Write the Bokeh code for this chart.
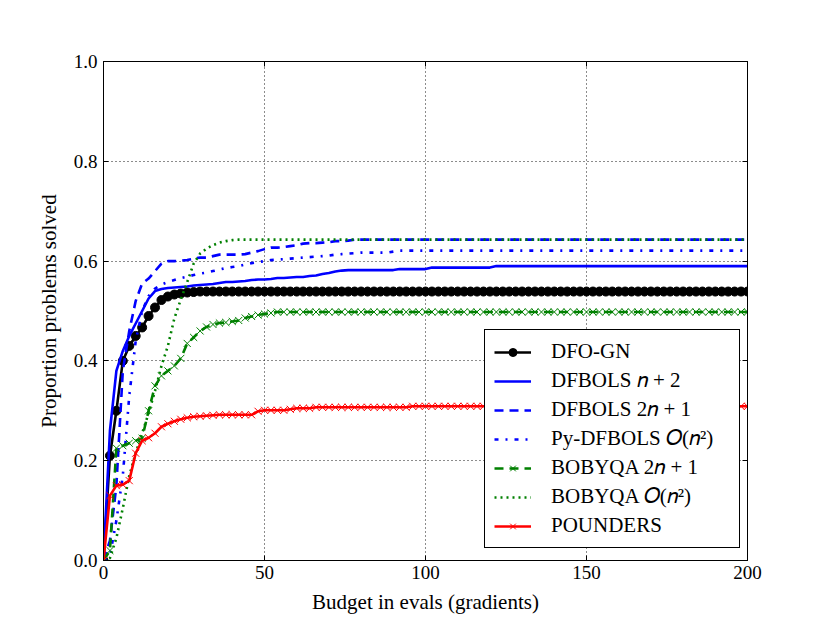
from bokeh.plotting import figure
from bokeh.models import Range1d, LinearAxis, FixedTicker, Legend, LegendItem
from bokeh.embed import file_html
from bokeh.resources import INLINE

# ---------------- data ----------------
budget = list(range(0, 201, 2))

dfo_gn = ([0.0, 0.21, 0.30, 0.40, 0.43, 0.45, 0.467, 0.49, 0.507, 0.522,
           0.529, 0.533, 0.535, 0.537, 0.538, 0.539, 0.539, 0.539, 0.539, 0.539]
          + [0.539] * 81)

dfbols_n2 = ([0.0, 0.26, 0.38, 0.42, 0.45, 0.475, 0.50, 0.525, 0.54, 0.544,
              0.546, 0.547, 0.548, 0.549, 0.551, 0.552, 0.553, 0.554, 0.556, 0.558,
              0.558, 0.559, 0.560, 0.562, 0.563, 0.563, 0.564, 0.566, 0.566, 0.567,
              0.568, 0.568, 0.570, 0.571, 0.574, 0.576, 0.579, 0.581, 0.582, 0.582]
             + [0.582] * 6 + [0.584] * 5 + [0.587] * 10 + [0.590] * 40)

dfbols_2n1 = ([0.0, 0.04, 0.15, 0.38, 0.46, 0.52, 0.555, 0.565, 0.58, 0.595,
               0.600, 0.600, 0.601, 0.602, 0.605, 0.607, 0.607, 0.610, 0.613, 0.613,
               0.613, 0.613, 0.614, 0.617, 0.620, 0.624, 0.627, 0.627, 0.628, 0.630,
               0.632, 0.635, 0.636, 0.636, 0.637, 0.638, 0.640, 0.640, 0.641, 0.643]
              + [0.643] * 61)

pydfbols_on2 = ([0.0, 0.01, 0.08, 0.17, 0.33, 0.44, 0.50, 0.53, 0.545, 0.553,
                 0.558, 0.562, 0.566, 0.569, 0.572, 0.575, 0.577, 0.580, 0.583, 0.586,
                 0.588, 0.590, 0.593, 0.596, 0.598, 0.600, 0.602, 0.603, 0.604, 0.605,
                 0.606, 0.607, 0.608, 0.609, 0.610, 0.611, 0.613, 0.614, 0.615, 0.616,
                 0.617, 0.617, 0.617, 0.617, 0.617, 0.619, 0.621, 0.621, 0.621, 0.621]
                + [0.621] * 51)

bobyqa_2n1 = ([0.0, 0.02, 0.225, 0.23, 0.235, 0.24, 0.245, 0.30, 0.35, 0.37,
               0.38, 0.39, 0.405, 0.435, 0.447, 0.46, 0.468, 0.473, 0.476, 0.477,
               0.479, 0.481, 0.486, 0.489, 0.492, 0.494, 0.496, 0.498, 0.498, 0.498]
              + [0.498] * 71)

bobyqa_on2 = ([0.0, 0.005, 0.045, 0.105, 0.17, 0.215, 0.255, 0.295, 0.34, 0.39,
               0.43, 0.485, 0.523, 0.558, 0.595, 0.615, 0.625, 0.632, 0.637, 0.640,
               0.642]
              + [0.643] * 80)

pounders = ([0.0, 0.13, 0.15, 0.152, 0.16, 0.215, 0.24, 0.246, 0.255, 0.268,
             0.274, 0.279, 0.283, 0.286, 0.288, 0.289, 0.290, 0.291, 0.292, 0.292,
             0.292, 0.292, 0.292, 0.292, 0.299, 0.301, 0.301, 0.301, 0.301, 0.303,
             0.305, 0.305, 0.305, 0.307, 0.307, 0.307, 0.307, 0.307, 0.307, 0.307]
            + [0.307] * 8 + [0.309] * 53)

x_ticks = [0, 50, 100, 150, 200]
x_tick_labels = ["0", "50", "100", "150", "200"]
y_ticks = [0.0, 0.2, 0.4, 0.6, 0.8, 1.0]
y_tick_labels = ["0.0", "0.2", "0.4", "0.6", "0.8", "1.0"]

labels = ["DFO-GN", "DFBOLS \U0001D45B + 2", "DFBOLS 2\U0001D45B + 1",
          "Py-DFBOLS \U0001D442(\U0001D45B\u00B2)", "BOBYQA 2\U0001D45B + 1",
          "BOBYQA \U0001D442(\U0001D45B\u00B2)", "POUNDERS"]

FONT = "Liberation Serif"

# ---------------- figure ----------------
p = figure(frame_width=644, frame_height=499,
           x_range=Range1d(0, 200), y_range=Range1d(0, 1),
           output_backend="svg", toolbar_location=None,
           min_border_left=103, min_border_right=83,
           min_border_top=61, min_border_bottom=63)
p.background_fill_color = "white"
p.border_fill_color = "white"
p.outline_line_color = "black"
p.outline_line_width = 1
p.outline_line_alpha = 1

bottom = p.below[0]
left = p.left[0]
top = LinearAxis(ticker=FixedTicker(ticks=x_ticks), major_label_text_color=None)
right = LinearAxis(ticker=FixedTicker(ticks=y_ticks), major_label_text_color=None)
p.add_layout(top, "above")
p.add_layout(right, "right")

bottom.ticker = FixedTicker(ticks=x_ticks)
left.ticker = FixedTicker(ticks=y_ticks)
bottom.major_label_overrides = dict(zip(x_ticks, x_tick_labels))
left.major_label_overrides = dict(zip(y_ticks, y_tick_labels))
bottom.axis_label = "Budget in evals (gradients)"
left.axis_label = "Proportion problems solved"

for ax in [bottom, left, top, right]:
    ax.axis_line_color = "black"
    ax.axis_line_width = 1
    ax.major_tick_in = 5
    ax.major_tick_out = 0
    ax.major_tick_line_color = "black"
    ax.major_tick_line_width = 1
    ax.minor_tick_line_color = None
for ax in [bottom, left]:
    ax.major_label_text_font = FONT
    ax.major_label_text_color = "black"
    ax.major_label_text_font_size = "19px"
    ax.axis_label_text_font = FONT
    ax.axis_label_text_font_style = "normal"
    ax.axis_label_text_font_size = "21px"
    ax.axis_label_text_color = "black"
bottom.major_label_standoff = 5
left.major_label_standoff = 6
bottom.axis_label_standoff = 8
left.axis_label_standoff = 10

for g, t in [(p.xgrid, x_ticks), (p.ygrid, y_ticks)]:
    g.ticker = FixedTicker(ticks=t)
    g.grid_line_color = "black"
    g.grid_line_dash = "1 3"
    g.grid_line_width = 1
    g.grid_line_alpha = 0.9

LW = 2.6
r1l = p.line(budget, dfo_gn, line_color="black", line_width=LW)
r1m = p.scatter(budget, dfo_gn, marker="circle", size=9, fill_color="black", line_color="black")
r2 = p.line(budget, dfbols_n2, line_color="#0000ff", line_width=LW)
r3 = p.line(budget, dfbols_2n1, line_color="#0000ff", line_width=LW, line_dash="9 6")
r4 = p.line(budget, pydfbols_on2, line_color="#0000ff", line_width=LW, line_dash="4 7 2 7")
r5l = p.line(budget, bobyqa_2n1, line_color="#008000", line_width=LW, line_dash="9 6")
r5m = p.scatter(budget, bobyqa_2n1, marker="x", size=10, line_color="#008000", line_width=1)
r6 = p.line(budget, bobyqa_on2, line_color="#008000", line_width=LW, line_dash="2 4")
r7l = p.line(budget, pounders, line_color="#ff0000", line_width=LW)
r7m = p.scatter(budget, pounders, marker="x", size=10, line_color="#ff0000", line_width=1)

items = [LegendItem(label=labels[0], renderers=[r1l, r1m]),
         LegendItem(label=labels[1], renderers=[r2]),
         LegendItem(label=labels[2], renderers=[r3]),
         LegendItem(label=labels[3], renderers=[r4]),
         LegendItem(label=labels[4], renderers=[r5l, r5m]),
         LegendItem(label=labels[5], renderers=[r6]),
         LegendItem(label=labels[6], renderers=[r7l, r7m])]
legend = Legend(items=items, location=(381, 12))
legend.border_line_color = "black"
legend.border_line_width = 1
legend.border_line_alpha = 1
legend.background_fill_color = "white"
legend.background_fill_alpha = 1
legend.label_text_font = FONT
legend.label_text_font_size = "21px"
legend.label_text_color = "black"
legend.glyph_width = 37
legend.glyph_height = 20
legend.label_height = 20
legend.label_width = 179
legend.label_standoff = 20
legend.spacing = 4
legend.padding = 9
legend.margin = 0
p.add_layout(legend)

open("out.html", "w").write(file_html(p, INLINE))
